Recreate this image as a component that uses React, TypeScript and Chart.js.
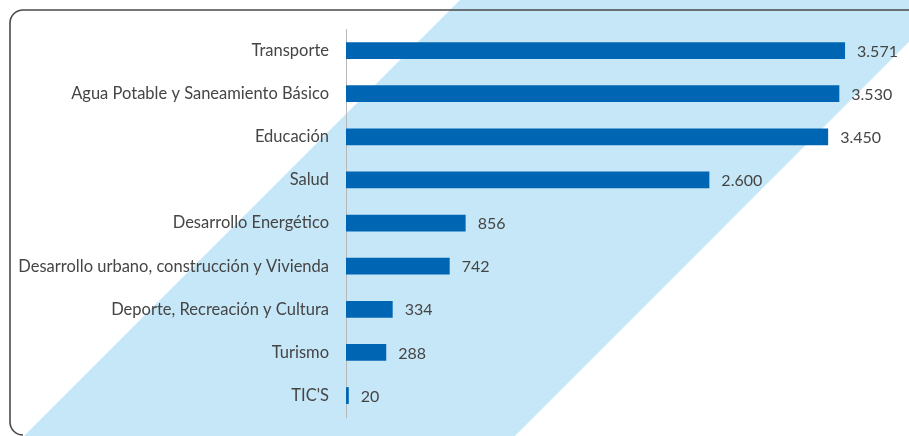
import React, { useEffect, useRef } from "react";
import { Chart, registerables } from "chart.js";

Chart.register(...registerables);

const categories = [
  "Transporte",
  "Agua Potable y Saneamiento Básico",
  "Educación",
  "Salud",
  "Desarrollo Energético",
  "Desarrollo urbano, construcción y Vivienda",
  "Deporte, Recreación y Cultura",
  "Turismo",
  "TIC'S",
];
const values = [3571, 3530, 3450, 2600, 856, 742, 334, 288, 20];
const valueLabels = ["3.571", "3.530", "3.450", "2.600", "856", "742", "334", "288", "20"];

const FONT = "Lato, 'Open Sans', sans-serif";

const backgroundPlugin = {
  id: "bgDecor",
  beforeDraw(chart: any) {
    const { ctx, width, height } = chart;
    ctx.save();
    ctx.fillStyle = "#ffffff";
    ctx.fillRect(0, 0, width, height);
    // diagonal light-blue band
    const a = width * 0.506;
    const b = width * 1.046;
    ctx.fillStyle = "#C6E7F7";
    ctx.beginPath();
    ctx.moveTo(a, 0);
    ctx.lineTo(b, 0);
    ctx.lineTo(b - height, height);
    ctx.lineTo(a - height, height);
    ctx.closePath();
    ctx.fill();
    // rounded frame
    ctx.strokeStyle = "#4a4a4a";
    ctx.lineWidth = 1.6;
    const x0 = 10, y0 = 10, x1 = width + 20, y1 = height - 1, r = 13;
    ctx.beginPath();
    ctx.moveTo(x1, y0);
    ctx.lineTo(x0 + r, y0);
    ctx.arcTo(x0, y0, x0, y0 + r, r);
    ctx.lineTo(x0, y1 - r);
    ctx.arcTo(x0, y1, x0 + r, y1, r);
    ctx.stroke();
    ctx.restore();
  },
};

const labelPlugin = {
  id: "valueLabels",
  afterDatasetsDraw(chart: any) {
    const { ctx } = chart;
    const meta = chart.getDatasetMeta(0);
    ctx.save();
    ctx.fillStyle = "#454545";
    ctx.font = `16px ${FONT}`;
    ctx.textAlign = "left";
    ctx.textBaseline = "middle";
    meta.data.forEach((bar: any, i: number) => {
      ctx.fillText(valueLabels[i], bar.x + 12, bar.y + 1);
    });
    ctx.restore();
  },
};

export default function App() {
  const ref = useRef<HTMLCanvasElement>(null);
  useEffect(() => {
    if (!ref.current) return;
    const chart = new Chart(ref.current, {
      type: "bar",
      data: {
        labels: categories,
        datasets: [
          {
            data: values,
            backgroundColor: "#0066B3",
            borderWidth: 0,
            barPercentage: 0.78,
            categoryPercentage: 0.5,
          },
        ],
      },
      options: {
        indexAxis: "y",
        animation: false,
        responsive: true,
        maintainAspectRatio: false,
        layout: { padding: { top: 29, bottom: 10, right: 4, left: 0 } },
        plugins: {
          legend: { display: false },
          tooltip: { enabled: false },
        },
        scales: {
          x: { display: false, min: 0, max: 4000 },
          y: {
            afterFit(scale: any) {
              scale.width = 346;
            },
            grid: { display: false, drawTicks: true, tickLength: 8 },
            border: { display: true, color: "#b8b8b8", width: 1 },
            ticks: {
              padding: 9,
              color: "#454545",
              font: { family: FONT, size: 16.5 },
            },
          },
        },
      },
      plugins: [backgroundPlugin, labelPlugin],
    });
    return () => chart.destroy();
  }, []);
  return (
    <div style={{ position: "fixed", left: 0, top: 0, width: 909, height: 436 }}>
      <canvas ref={ref} />
    </div>
  );
}
